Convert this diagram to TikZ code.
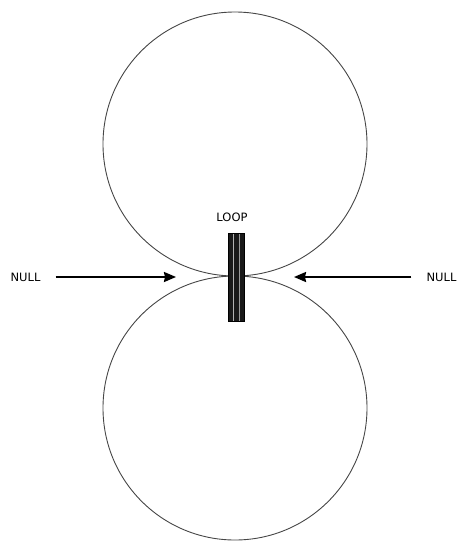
\documentclass[tikz,border=0pt]{standalone}
\usepackage{fontspec}
\setsansfont{DejaVu Sans}
\usepackage{tikz}
\usetikzlibrary{arrows.meta}
\definecolor{ink}{RGB}{70, 70, 70}
\newcommand*{\rad}{264}

\begin{document}
\begin{tikzpicture}[
   x=1pt, y=-1pt,
   lobe/.style={circle, draw=ink, line width=0.9, inner sep=0, minimum size=\rad},
   loopbar/.style={rectangle, draw=black, fill=black!90, line width=1.2, inner sep=0,
                   minimum width=16, minimum height=88,
                   path picture={
                     \draw[white!70!black, line width=0.8] ([xshift=-3.5]path picture bounding box.north) -- ([xshift=-3.5]path picture bounding box.south);
                     \draw[white!60!black, line width=0.5] ([xshift=2.5]path picture bounding box.north) -- ([xshift=2.5]path picture bounding box.south);
                   }},
   tag/.style={font=\sffamily\fontsize{11.5}{13}\selectfont, inner sep=1}
  ]

  \useasboundingbox (0, 0) rectangle (460, 542);

  % Lobes
  \node (up) at (235, 144) [lobe] {};
  \node (down) at (235, 408) [lobe] {};

  % Loop antenna
  \node (loop) at (236.5, 277.5) [loopbar] {};
  \node (looptext) at (232, 217) [tag] {LOOP};

  % Nulls
  \node (nullL) at (25.5, 277) [tag] {NULL};
  \node (nullR) at (441.5, 277) [tag] {NULL};
  \coordinate (tipL) at (176, 277);
  \coordinate (tipR) at (294, 277);

  \foreach \B/\E in {nullL/tipL, nullR/tipR} {
    \draw[-{Stealth[length=12, width=10, inset=1]}, color=black, line width=2, shorten <=14] (\B) -- (\E);
  }

\end{tikzpicture}
\end{document}
